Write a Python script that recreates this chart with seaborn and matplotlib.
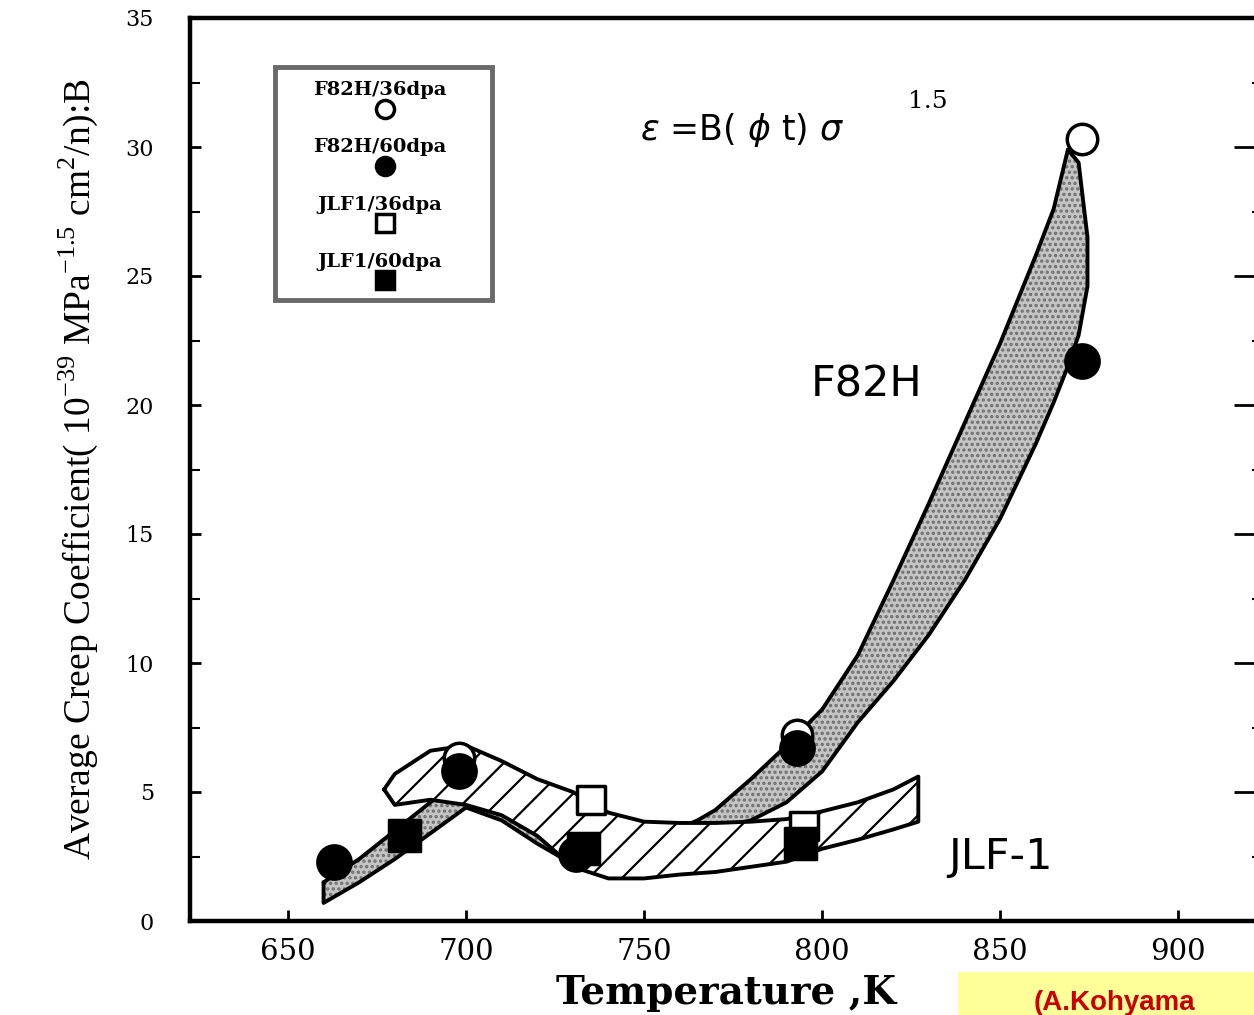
import numpy as np
import pandas as pd
import matplotlib
matplotlib.use("Agg")
import matplotlib.pyplot as plt
import seaborn as sns
from matplotlib.patches import Rectangle

# ---------------- data ----------------
f82h_36_T = [698, 793, 873]
f82h_36_B = [6.3, 7.2, 30.3]
f82h_60_T = [663, 698, 731, 793, 873]
f82h_60_B = [2.3, 5.8, 2.6, 6.7, 21.7]
jlf_36_T = [735, 795]
jlf_36_B = [4.7, 3.7]
jlf_60_T = [683, 733, 794]
jlf_60_B = [3.3, 2.8, 3.0]

# F82H scatter band (stippled)
f82h_band_T = [660, 670, 680, 690, 700, 710, 720, 730, 740, 750, 760, 765, 770,
               780, 790, 800, 810, 820, 830, 840, 850, 860, 865, 869, 872, 874.5]
f82h_band_up = [1.5, 2.4, 3.5, 4.6, 5.6, 5.0, 4.2, 3.3, 3.0, 3.2, 3.6, 3.9, 4.3,
                5.5, 6.8, 8.2, 10.3, 13.2, 16.2, 19.3, 22.4, 25.8, 27.6, 29.9, 29.4, 26.5]
f82h_band_lo = [0.7, 1.5, 2.4, 3.4, 4.4, 3.9, 3.0, 2.2, 1.8, 2.0, 2.8, 3.3, 3.6,
                3.9, 4.6, 5.8, 7.7, 9.3, 11.1, 13.2, 15.6, 18.5, 20.1, 21.5, 22.7, 24.6]

# JLF-1 scatter band (hatched)
jlf_band_T = [677, 680, 690, 700, 710, 720, 730, 740, 750, 760, 770, 780, 790,
              800, 810, 820, 827]
jlf_band_up = [5.1, 5.7, 6.6, 6.8, 6.2, 5.5, 5.0, 4.2, 3.85, 3.8, 3.8, 3.85, 3.95,
               4.25, 4.6, 5.1, 5.6]
jlf_band_lo = [5.1, 4.5, 4.7, 4.5, 4.1, 3.3, 2.1, 1.65, 1.65, 1.8, 1.9, 2.1, 2.3,
               2.8, 3.15, 3.55, 3.85]

x_ticks = [650, 700, 750, 800, 850, 900]
y_ticks = [0, 5, 10, 15, 20, 25, 30, 35]
legend_labels = ["F82H/36dpa", "F82H/60dpa", "JLF1/36dpa", "JLF1/60dpa"]

# ---------------- style ----------------
sns.set_style("ticks")
plt.rcParams["font.family"] = ["DejaVu Serif", "DejaVu Sans"]
plt.rcParams["hatch.linewidth"] = 1.6
plt.rcParams["mathtext.fontset"] = "dejavusans"
plt.rcParams["text.color"] = "black"
plt.rcParams["axes.labelcolor"] = "black"
plt.rcParams["xtick.color"] = "black"
plt.rcParams["ytick.color"] = "black"

W, H = 1254, 1015
fig = plt.figure(figsize=(W / 100, H / 100), dpi=100)
fig.patch.set_facecolor("white")
ax = fig.add_axes([190 / W, 94 / H, 1072 / W, 903 / H])
ax.set_facecolor("white")

# ---------------- bands ----------------
ax.fill_between(f82h_band_T, f82h_band_lo, f82h_band_up, facecolor="#c4c4c4",
                edgecolor="#6e6e6e", hatch="...", linewidth=0, zorder=2)
f_out_x = list(f82h_band_T) + list(f82h_band_T[::-1]) + [f82h_band_T[0]]
f_out_y = list(f82h_band_up) + list(f82h_band_lo[::-1]) + [f82h_band_up[0]]
ax.plot(f_out_x, f_out_y, color="black", lw=2.8, zorder=2.1, solid_joinstyle="round")

ax.fill_between(jlf_band_T, jlf_band_lo, jlf_band_up, facecolor="white",
                edgecolor="black", hatch="/", linewidth=0, zorder=3)
j_out_x = list(jlf_band_T) + list(jlf_band_T[::-1]) + [jlf_band_T[0]]
j_out_y = list(jlf_band_up) + list(jlf_band_lo[::-1]) + [jlf_band_up[0]]
ax.plot(j_out_x, j_out_y, color="black", lw=2.8, zorder=3.1, solid_joinstyle="round")

# ---------------- markers ----------------
df_f36 = pd.DataFrame({"T": f82h_36_T, "B": f82h_36_B})
df_f60 = pd.DataFrame({"T": f82h_60_T, "B": f82h_60_B})
df_j36 = pd.DataFrame({"T": jlf_36_T, "B": jlf_36_B})
df_j60 = pd.DataFrame({"T": jlf_60_T, "B": jlf_60_B})

sns.scatterplot(data=df_f36, x="T", y="B", marker="o", s=480, facecolor="white",
                edgecolor="black", linewidth=2.5, ax=ax, zorder=4, legend=False)
sns.scatterplot(data=df_j36, x="T", y="B", marker="s", s=420, facecolor="white",
                edgecolor="black", linewidth=2.5, ax=ax, zorder=4, legend=False)
sns.scatterplot(data=df_j60, x="T", y="B", marker="s", s=500, color="black",
                edgecolor="black", ax=ax, zorder=5, legend=False)
sns.scatterplot(data=df_f60, x="T", y="B", marker="o", s=600, color="black",
                edgecolor="black", ax=ax, zorder=5, legend=False)

# ---------------- axes ----------------
ax.set_xlim(622.5, 923.5)
ax.set_ylim(0, 35)
ax.set_xticks(x_ticks)
ax.set_yticks(y_ticks)
ax.set_yticks(np.arange(2.5, 35, 5), minor=True)
ax.set_xticklabels([str(v) for v in x_ticks])
ax.set_yticklabels([str(v) for v in y_ticks])
for s in ax.spines.values():
    s.set_visible(True)
    s.set_color("black")
    s.set_linewidth(3.2)

ax.tick_params(axis="x", which="major", direction="in", length=8, width=2,
               labelsize=21, pad=12, colors="black")
ax.tick_params(axis="y", which="major", direction="in", length=8, width=2,
               labelsize=16, pad=26, right=True, colors="black")
ax.tick_params(axis="y", which="minor", direction="in", length=7, width=1.5,
               right=True, colors="black")
for t in ax.yaxis.get_major_ticks():
    t.tick2line.set_markersize(20)
for t in ax.yaxis.get_minor_ticks():
    t.tick2line.set_markersize(7)

ax.set_xlabel("Temperature ,K", fontsize=28, fontweight="bold", labelpad=6,
              color="black")
ax.set_ylabel(r"Average Creep Coefficient( 10$^{\mathregular{-39}}$ MPa$^{\mathregular{-1.5}}$ cm$^{\mathregular{2}}$/n):B",
              fontsize=27, family=["Liberation Serif", "DejaVu Serif"], labelpad=18,
              color="black")

# ---------------- annotations ----------------
ax.text(748.9, 30.66, r"$\epsilon$ =B( $\phi$ t) $\sigma$", fontsize=25,
        family=["DejaVu Sans"], va="center", ha="left", zorder=6, color="black")
ax.text(824.0, 31.75, "1.5", fontsize=18, va="center", ha="left", zorder=6,
        color="black")
ax.text(812.5, 20.8, "F82H", fontsize=31, family=["DejaVu Sans"], va="center",
        ha="center", zorder=6, color="black")
ax.text(850, 2.5, "JLF-1", fontsize=31, family=["DejaVu Sans"], va="center",
        ha="center", zorder=6, color="black")

# ---------------- hand-made legend box ----------------
ax.add_patch(Rectangle((0.079, 0.688), 0.203, 0.258, transform=ax.transAxes,
                       facecolor="white", edgecolor="#6a6a6a", lw=3.5, zorder=7))
row_text_y = [0.920, 0.857, 0.793, 0.730]
row_mark_y = [0.899, 0.836, 0.773, 0.710]
leg_styles = [("o", "white"), ("o", "black"), ("s", "white"), ("s", "black")]
for lab, ty, my, (mk, fc) in zip(legend_labels, row_text_y, row_mark_y, leg_styles):
    ax.text(0.177, ty, lab, transform=ax.transAxes, fontsize=14, fontweight="bold",
            ha="center", va="center", zorder=8, color="black")
    ax.plot([0.182], [my], marker=mk, ms=13, mfc=fc, mec="black", mew=2.5,
            transform=ax.transAxes, zorder=8, clip_on=False, ls="none")

# ---------------- source tag (bottom right) ----------------
fig.patches.append(Rectangle((958 / W, 0), 1 - 958 / W, 43 / H, transform=fig.transFigure,
                             facecolor="#ffff99", edgecolor="none", zorder=0))
fig.text(1034 / W, 1 - 990 / H, "(A.Kohyama", color="#cc0000", fontsize=20,
         fontweight="bold", family=["Liberation Sans", "DejaVu Sans"], va="top", ha="left")

fig.savefig("out.png", dpi=100)
